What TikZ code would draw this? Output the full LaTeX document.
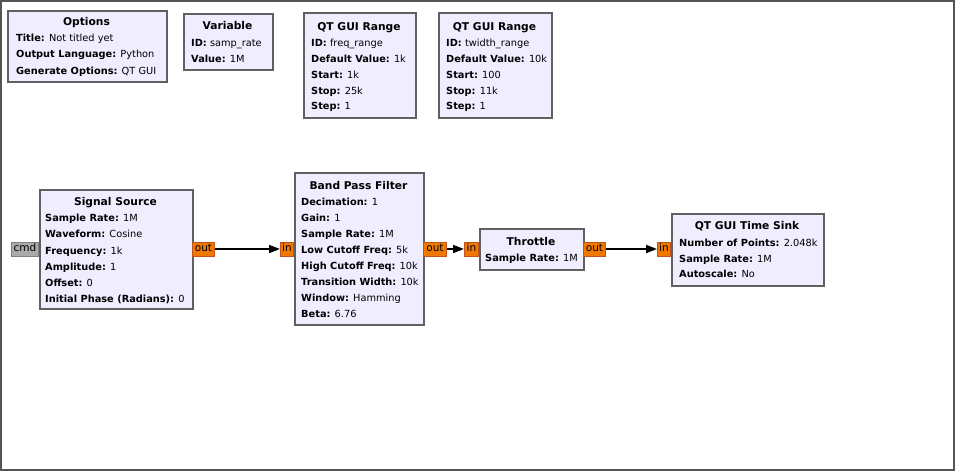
\documentclass[tikz,border=0pt]{standalone}
\usepackage{fontspec}
\setmainfont{DejaVu Sans}
\usetikzlibrary{arrows.meta}
\definecolor{blockfill}{RGB}{240,237,255}
\definecolor{blockline}{RGB}{96,96,96}
\definecolor{portfill}{RGB}{240,120,0}
\definecolor{portline}{RGB}{190,85,30}
\definecolor{cmdfill}{RGB}{170,170,170}
\definecolor{cmdline}{RGB}{128,128,128}
\definecolor{framecol}{RGB}{85,85,85}
\tikzset{
  blk/.style={draw=blockline, fill=blockfill, line width=1.8pt, inner sep=0pt, anchor=north west},
  ttl/.style={font=\fontsize{10.7}{12}\selectfont\bfseries, inner sep=0pt, text height=8pt, text depth=2.3pt, yshift=-1.5pt},
  row/.style={font=\fontsize{9.8}{11}\selectfont, inner sep=0pt, anchor=west, text height=7.6pt, text depth=2.2pt, yshift=-1.5pt},
  port/.style={draw=portline, fill=portfill, line width=1pt, inner sep=0pt, minimum height=14pt,
    text height=7.6pt, text depth=2.2pt, font=\fontsize{10.5}{11}\selectfont},
  cmdport/.style={port, draw=cmdline, fill=cmdfill},
  conn/.style={line width=1.6pt, -{Triangle[length=11pt,width=8pt]}}
}
\newcommand{\kv}[2]{\textbf{#1} #2}
\begin{document}
\begin{tikzpicture}[x=1pt,y=-1pt]
\useasboundingbox (0,0) rectangle (955,471);
\draw[framecol, line width=2pt] (1,1) rectangle (953.5,469.5);

% Options
\node[blk, minimum width=159pt, minimum height=71pt] (opt) at (7,10) {};
\node[ttl] (optt) at (86.5,21) {Options};
\node[row] (opt1) at (16,37) {\kv{Title:}{Not titled yet}};
\node[row] (opt2) at (16,53) {\kv{Output Language:}{Python}};
\node[row] (opt3) at (16,70) {\kv{Generate Options:}{QT GUI}};

% Variable
\node[blk, minimum width=89pt, minimum height=56pt] (var) at (183,13) {};
\node[ttl] (vart) at (227.5,25) {Variable};
\node[row] (var1) at (191,42) {\kv{ID:}{samp\_rate}};
\node[row] (var2) at (191,58) {\kv{Value:}{1M}};

% QT GUI Range 1
\node[blk, minimum width=112pt, minimum height=105pt] (rg1) at (303,12) {};
\node[ttl] (rg1t) at (359,26) {QT GUI Range};
\node[row] (rg11) at (311,42) {\kv{ID:}{freq\_range}};
\node[row] (rg12) at (311,58) {\kv{Default Value:}{1k}};
\node[row] (rg13) at (311,74) {\kv{Start:}{1k}};
\node[row] (rg14) at (311,90) {\kv{Stop:}{25k}};
\node[row] (rg15) at (311,105) {\kv{Step:}{1}};

% QT GUI Range 2
\node[blk, minimum width=113pt, minimum height=105pt] (rg2) at (438,12) {};
\node[ttl] (rg2t) at (494.5,26) {QT GUI Range};
\node[row] (rg21) at (446,42) {\kv{ID:}{twidth\_range}};
\node[row] (rg22) at (446,58) {\kv{Default Value:}{10k}};
\node[row] (rg23) at (446,74) {\kv{Start:}{100}};
\node[row] (rg24) at (446,90) {\kv{Stop:}{11k}};
\node[row] (rg25) at (446,105) {\kv{Step:}{1}};

% Signal Source
\node[blk, minimum width=153pt, minimum height=119pt] (ss) at (39,189) {};
\node[ttl] (sst) at (115.5,201) {Signal Source};
\node[row] (ss1) at (45,217) {\kv{Sample Rate:}{1M}};
\node[row] (ss2) at (45,233) {\kv{Waveform:}{Cosine}};
\node[row] (ss3) at (45,250) {\kv{Frequency:}{1k}};
\node[row] (ss4) at (45,266) {\kv{Amplitude:}{1}};
\node[row] (ss5) at (45,282) {\kv{Offset:}{0}};
\node[row] (ss6) at (45,298) {\kv{Initial Phase (Radians):}{0}};

% Band Pass Filter
\node[blk, minimum width=129pt, minimum height=152pt] (bpf) at (294,172) {};
\node[ttl] (bpft) at (358.5,185) {Band Pass Filter};
\node[row] (bpf1) at (301,201) {\kv{Decimation:}{1}};
\node[row] (bpf2) at (301,217) {\kv{Gain:}{1}};
\node[row] (bpf3) at (301,233) {\kv{Sample Rate:}{1M}};
\node[row] (bpf4) at (301,249) {\kv{Low Cutoff Freq:}{5k}};
\node[row] (bpf5) at (301,265) {\kv{High Cutoff Freq:}{10k}};
\node[row] (bpf6) at (301,281) {\kv{Transition Width:}{10k}};
\node[row] (bpf7) at (301,297) {\kv{Window:}{Hamming}};
\node[row] (bpf8) at (301,313) {\kv{Beta:}{6.76}};

% Throttle
\node[blk, minimum width=104pt, minimum height=41pt] (thr) at (479,228) {};
\node[ttl] (thrt) at (531,241) {Throttle};
\node[row] (thr1) at (485,257) {\kv{Sample Rate:}{1M}};

% QT GUI Time Sink
\node[blk, minimum width=152pt, minimum height=72pt] (snk) at (671,213) {};
\node[ttl] (snkt) at (747,225) {QT GUI Time Sink};
\node[row] (snk1) at (679,242) {\kv{Number of Points:}{2.048k}};
\node[row] (snk2) at (679,258) {\kv{Sample Rate:}{1M}};
\node[row] (snk3) at (679,273) {\kv{Autoscale:}{No}};

% Ports
\node[cmdport, minimum width=27pt, anchor=east] (sscmd) at (39,249) {cmd};
\node[port, minimum width=22pt, anchor=west] (ssout) at (192,249) {out};
\node[port, minimum width=13pt, anchor=east] (bpfin) at (294,249) {in};
\node[port, minimum width=23pt, anchor=west] (bpfout) at (423,249) {out};
\node[port, minimum width=14pt, anchor=east] (thrin) at (479,249) {in};
\node[port, minimum width=22pt, anchor=west] (throut) at (583,249) {out};
\node[port, minimum width=13pt, anchor=east] (snkin) at (671,249) {in};

% Connectors
\draw[conn] (ssout.east) -- (bpfin.west);
\draw[conn] (bpfout.east) -- (thrin.west);
\draw[conn] (throut.east) -- (snkin.west);
\end{tikzpicture}
\end{document}
